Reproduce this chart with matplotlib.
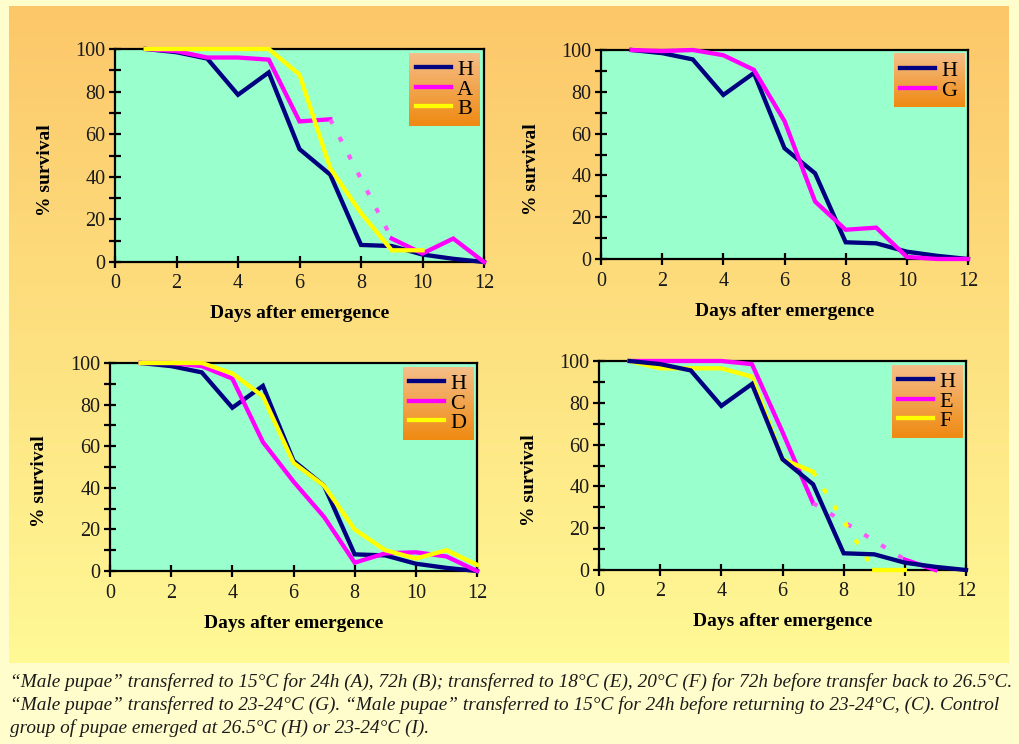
import numpy as np
import matplotlib
matplotlib.use("Agg")
import matplotlib.pyplot as plt
from matplotlib.colors import LinearSegmentedColormap

plt.rcParams['font.family'] = ['Liberation Serif', 'DejaVu Serif']

# survival (%) per day after emergence, nan = not recorded
days = np.arange(1, 13)
surv_H = [100, 98.5, 95.5, 78.5, 89, 53, 41, 8, 7.5, 3.5, 1.5, 0]
surv_A = [100, 99, 96, 96, 95, 66, 67, np.nan, 11, 4, 11, 0]
surv_B = [100, 100, 100, 100, 100, 88, 44, 23, 5.5, 5.5, np.nan, np.nan]
surv_G = [100, 99.5, 100, 97.5, 90.5, 66, 27.5, 14, 15, 1, 0, 0]
surv_C = [100, 100, 98.5, 92.5, 62, 43, 26, 4, 8.5, 9, 7, 0]
surv_D = [100, 100, 100, 95, 84, 52, 41, 20, 10, 6, 10, 3]
surv_E = [100, 100, 100, 100, 98.5, 66, 32, np.nan, np.nan, 5, 0, np.nan]
surv_F = [100, 96.5, 96.5, 96.5, 92.5, 53, 47, np.nan, 0, 0, np.nan, np.nan]

caption = [
    "\u201cMale pupae\u201d transferred to 15\u00b0C for 24h (A), 72h (B); transferred to 18\u00b0C (E), 20\u00b0C (F) for 72h before transfer back to 26.5\u00b0C.",
    "\u201cMale pupae\u201d transferred to 23-24\u00b0C (G). \u201cMale pupae\u201d transferred to 15\u00b0C for 24h before returning to 23-24\u00b0C, (C). Control",
    "group of pupae emerged at 26.5\u00b0C (H) or 23-24\u00b0C (I).",
]

NAVY, MAGENTA, YELLOW = '#000080', '#FF00FF', '#FFFF00'
W, H = 1019, 744


def px_rect(left, top, right, bottom):
    return [left / W, 1 - bottom / H, (right - left) / W, (bottom - top) / H]


fig = plt.figure(figsize=(W / 100, H / 100), dpi=100, facecolor='#FFFDCC')

# shaded backdrop behind the four panels
bg = fig.add_axes(px_rect(9, 6, 1009, 663), zorder=-10)
bg.imshow(np.linspace(0, 1, 256)[:, None], aspect='auto', extent=[0, 1, 0, 1],
          cmap=LinearSegmentedColormap.from_list('bg', ['#FCC769', '#FFF996']))
bg.axis('off')

panels = [
    (px_rect(115, 49, 484, 262), [('H', surv_H, NAVY), ('A', surv_A, MAGENTA), ('B', surv_B, YELLOW)], False),
    (px_rect(601, 50, 968, 259), [('H', surv_H, NAVY), ('G', surv_G, MAGENTA)], False),
    (px_rect(110, 363, 477, 571), [('H', surv_H, NAVY), ('C', surv_C, MAGENTA), ('D', surv_D, YELLOW)], False),
    (px_rect(599, 361, 966, 570), [('H', surv_H, NAVY), ('E', surv_E, MAGENTA), ('F', surv_F, YELLOW)], True),
]


def plot_series(ax, y, color, label, z):
    y = np.asarray(y, dtype=float)
    ax.plot(days, y, color=color, lw=3.1, label=label, zorder=z,
            solid_joinstyle='miter', clip_on=False)
    # dotted bridge across missing days
    ok = np.where(~np.isnan(y))[0]
    for i, j in zip(ok[:-1], ok[1:]):
        if j - i > 1:
            dcol = '#FF55FF' if color == MAGENTA else color
            ax.plot([days[i], days[j]], [y[i], y[j]], color=dcol, lw=3,
                    ls=(0, (1.2, 3.6)), dash_capstyle='butt', zorder=z)


axes = []
for rect, series, h_on_top in panels:
    ax = fig.add_axes(rect)
    ax.set_facecolor('#99FFCC')
    for k, (name, vals, col) in enumerate(series):
        z = 3.4 if (h_on_top and name == 'H') else 3 + 0.1 * k
        plot_series(ax, vals, col, name, z)
    ax.set_xlim(0, 12)
    ax.set_ylim(0, 100)
    ax.set_xticks(range(0, 13, 2))
    ax.set_yticks(range(0, 101, 20))
    ax.set_yticks(range(10, 100, 20), minor=True)
    ax.tick_params(which='both', direction='inout', length=8, width=1.6,
                   labelsize=14.5, labelcolor='#1a1a1a')
    ax.tick_params(axis='y', pad=3)
    ax.tick_params(axis='x', pad=5)
    for s in ax.spines.values():
        s.set_linewidth(1.6)
    ax.set_xlabel('Days after emergence', fontsize=14, fontweight='bold')
    ax.xaxis.set_label_coords(0.5, -52 / (rect[3] * H))
    ax.xaxis.label.set_va('center')
    ax.set_ylabel('% survival', fontsize=14, fontweight='bold', va='center')
    ax.yaxis.set_label_coords(-70 / (rect[2] * W), 0.43)

    leg = ax.legend(loc='upper right', frameon=False, fontsize=16,
                    handlelength=1.55, handletextpad=0.3, labelspacing=-0.05,
                    borderpad=0.3, borderaxespad=0.18)
    leg.set_zorder(6)
    axes.append((ax, leg))

# orange shaded box behind each legend
fig.canvas.draw()
leg_cmap = LinearSegmentedColormap.from_list('leg', ['#F5BE88', '#EF8A12'])
for ax, leg in axes:
    bb = leg.get_window_extent().transformed(ax.transAxes.inverted())
    ax.imshow(np.linspace(0, 1, 64)[:, None], cmap=leg_cmap, aspect='auto',
              extent=[bb.x0, bb.x1, bb.y0, bb.y1], transform=ax.transAxes, zorder=5)
    ax.set_xlim(0, 12)
    ax.set_ylim(0, 100)

for i, line in enumerate(caption):
    fig.text(10 / W, 1 - (682 + 23 * i) / H, line, fontsize=13.9, style='italic',
             color='#1a1a1a', va='center', ha='left')

fig.savefig('out.png', dpi=100, facecolor=fig.get_facecolor())
